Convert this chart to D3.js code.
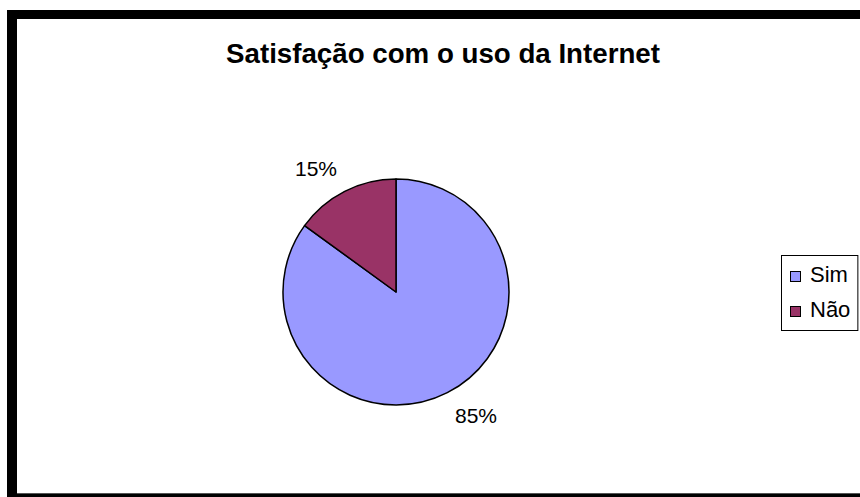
<!DOCTYPE html>
<html>
<head>
<meta charset="utf-8">
<script src="https://cdn.jsdelivr.net/npm/d3@7/dist/d3.min.js"></script>
<style>
  html, body { margin: 0; padding: 0; background: #fff; }
  svg { display: block; }
  text { font-family: "Liberation Sans", Arial, sans-serif; }
</style>
</head>
<body>
<svg id="chart" width="860" height="497"></svg>
<script>
const title = "Satisfação com o uso da Internet";
const categories = ["Sim", "Não"];
const values = [85, 15];
const colors = ["#9999FF", "#993366"];

const W = 860, H = 497;
const svg = d3.select("#chart");

// Frame
svg.append("rect").attr("x", 7).attr("y", 10).attr("width", W).attr("height", H)
  .attr("fill", "#000");
svg.append("rect").attr("x", 17).attr("y", 19).attr("width", W).attr("height", 474)
  .attr("fill", "#fff");
svg.append("line").attr("x1", 17).attr("x2", W).attr("y1", 493.5).attr("y2", 493.5)
  .attr("stroke", "#555").attr("stroke-width", 1);

// Title
svg.append("text").attr("x", 443).attr("y", 63).attr("text-anchor", "middle")
  .attr("font-size", 27.7).attr("font-weight", "bold").attr("fill", "#000").text(title);

// Pie
const cx = 396, cy = 292, r = 113;
const data = categories.map((c, i) => ({ cat: c, value: values[i], color: colors[i] }));
const arcs = d3.pie().sort(null).value(d => d.value)(data);
const arc = d3.arc().innerRadius(0).outerRadius(r);
const g = svg.append("g").attr("transform", `translate(${cx},${cy})`);
g.selectAll("path").data(arcs).join("path")
  .attr("d", arc).attr("fill", d => d.data.color)
  .attr("stroke", "#000").attr("stroke-width", 1.5).attr("stroke-linejoin", "round");

// Labels (outside end)
const lblSize = 21, lblOff = 17;
g.selectAll("text.lbl").data(arcs).join("text").attr("class", "lbl")
  .attr("font-size", lblSize).attr("fill", "#000").attr("text-anchor", "middle")
  .text(d => d.data.value + "%")
  .each(function(d) {
    const a = (d.startAngle + d.endAngle) / 2;
    const R = r + lblOff;
    const ax = R * Math.sin(a), ay = -R * Math.cos(a);
    const w = this.getComputedTextLength();
    const h = lblSize * 0.716;
    const x = ax + Math.sign(ax) * w / 2;
    const y = ay + Math.sign(ay) * h / 2;
    d3.select(this).attr("x", x).attr("y", y + h / 2);
  });

// Legend
const rowGap = 35;
const lg = svg.append("g").attr("transform", "translate(781,255)");
const lgText = [];
data.forEach((d, i) => {
  const y = 27 + i * rowGap;
  lg.append("rect").attr("x", 9.5).attr("y", y - 10.5).attr("width", 10).attr("height", 10)
    .attr("fill", d.color).attr("stroke", "#000").attr("stroke-width", 1);
  lgText.push(lg.append("text").attr("x", 29).attr("y", y).attr("font-size", 22)
    .attr("fill", "#000").text(d.cat));
});
const tw = d3.max(lgText, t => t.node().getComputedTextLength());
lg.insert("rect", ":first-child").attr("x", 0.5).attr("y", 0.5)
  .attr("width", 29 + tw + 7).attr("height", 27 + rowGap + 13)
  .attr("fill", "#fff").attr("stroke", "#000").attr("stroke-width", 1);
</script>
</body>
</html>
